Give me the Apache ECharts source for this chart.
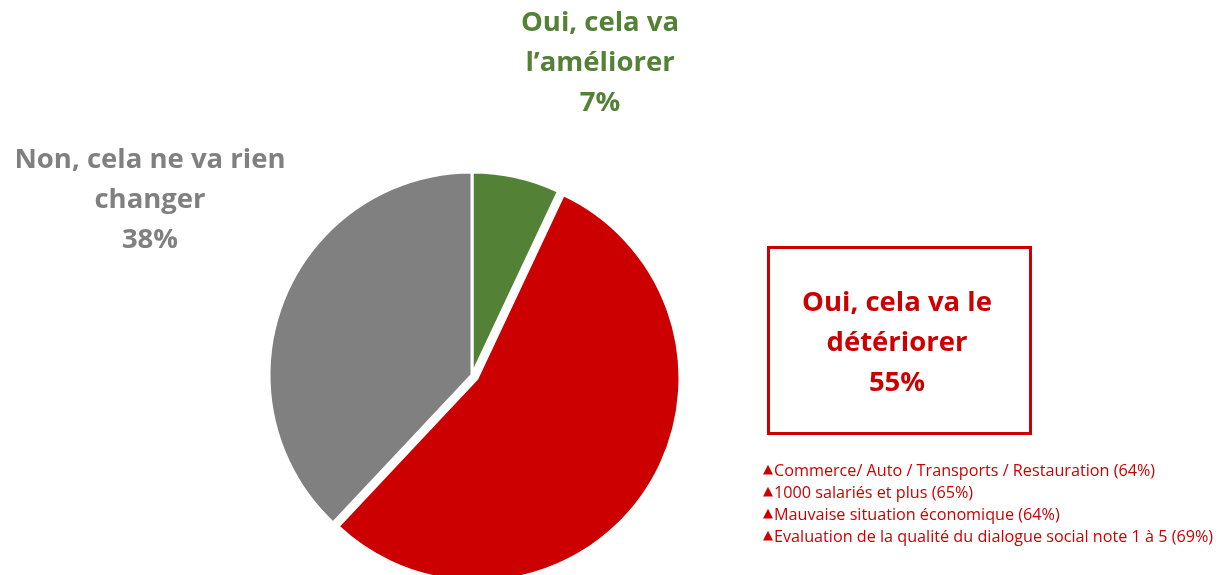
<!DOCTYPE html>
<html>
<head>
<meta charset="utf-8">
<script src="https://cdn.jsdelivr.net/npm/echarts@6/dist/echarts.min.js"></script>
<style>
  html, body { margin: 0; padding: 0; background: #fff; }
  #chart { width: 1224px; height: 575px; }
</style>
</head>
<body>
<div id="chart"></div>
<script>
// answers, in clockwise order from the top
const categories = ['Oui, cela va\nl\u2019améliorer', 'Oui, cela va le\ndétériorer', 'Non, cela ne va rien\nchanger']
const values = [7, 55, 38]
const colors = ['#538135', '#CC0000', '#808080']
const details = [
  'Commerce/ Auto / Transports / Restauration (64%)',
  '1000 salariés et plus (65%)',
  'Mauvaise situation économique (64%)',
  'Evaluation de la qualité du dialogue social note 1 à 5 (69%)'
]

const chart = echarts.init(document.getElementById('chart'))
const font = '"Open Sans", sans-serif'

function labelText(i, x, y) {
  return {
    type: 'text',
    x: x,
    y: y,
    style: {
      text: categories[i] + '\n' + values[i] + '%',
      fill: colors[i],
      font: 'bold 27.5px ' + font,
      lineHeight: 40,
      align: 'center',
      verticalAlign: 'top'
    }
  }
}

const graphics = [
  labelText(0, 600, 3),
  labelText(2, 150, 140),
  {
    type: 'rect',
    left: 766,
    top: 245,
    shape: { width: 262, height: 186 },
    style: { fill: 'none', stroke: colors[1], lineWidth: 3 }
  },
  labelText(1, 897, 283)
]
details.forEach((d, i) => {
  graphics.push({
    type: 'text',
    x: 763,
    y: 471 + i * 22,
    style: {
      text: '{t|\u25B2}' + d,
      fill: colors[1],
      font: '16.2px ' + font,
      verticalAlign: 'middle',
      rich: {
        t: { fontFamily: 'DejaVu Sans', fontSize: 13, fill: colors[1], padding: [0, 1, 2, 0] }
      }
    }
  })
})

chart.setOption({
  animation: false,
  series: [
    {
      type: 'pie',
      center: [472, 375],
      radius: [0, 203],
      startAngle: 90,
      clockwise: true,
      selectedMode: 'single',
      selectedOffset: 6,
      label: { show: false },
      labelLine: { show: false },
      emphasis: { disabled: true },
      itemStyle: { borderColor: '#fff', borderWidth: 3 },
      data: values.map((v, i) => ({
        value: v,
        name: categories[i],
        selected: i === 1,
        itemStyle: { color: colors[i] }
      }))
    }
  ],
  graphic: graphics
})
</script>
</body>
</html>
